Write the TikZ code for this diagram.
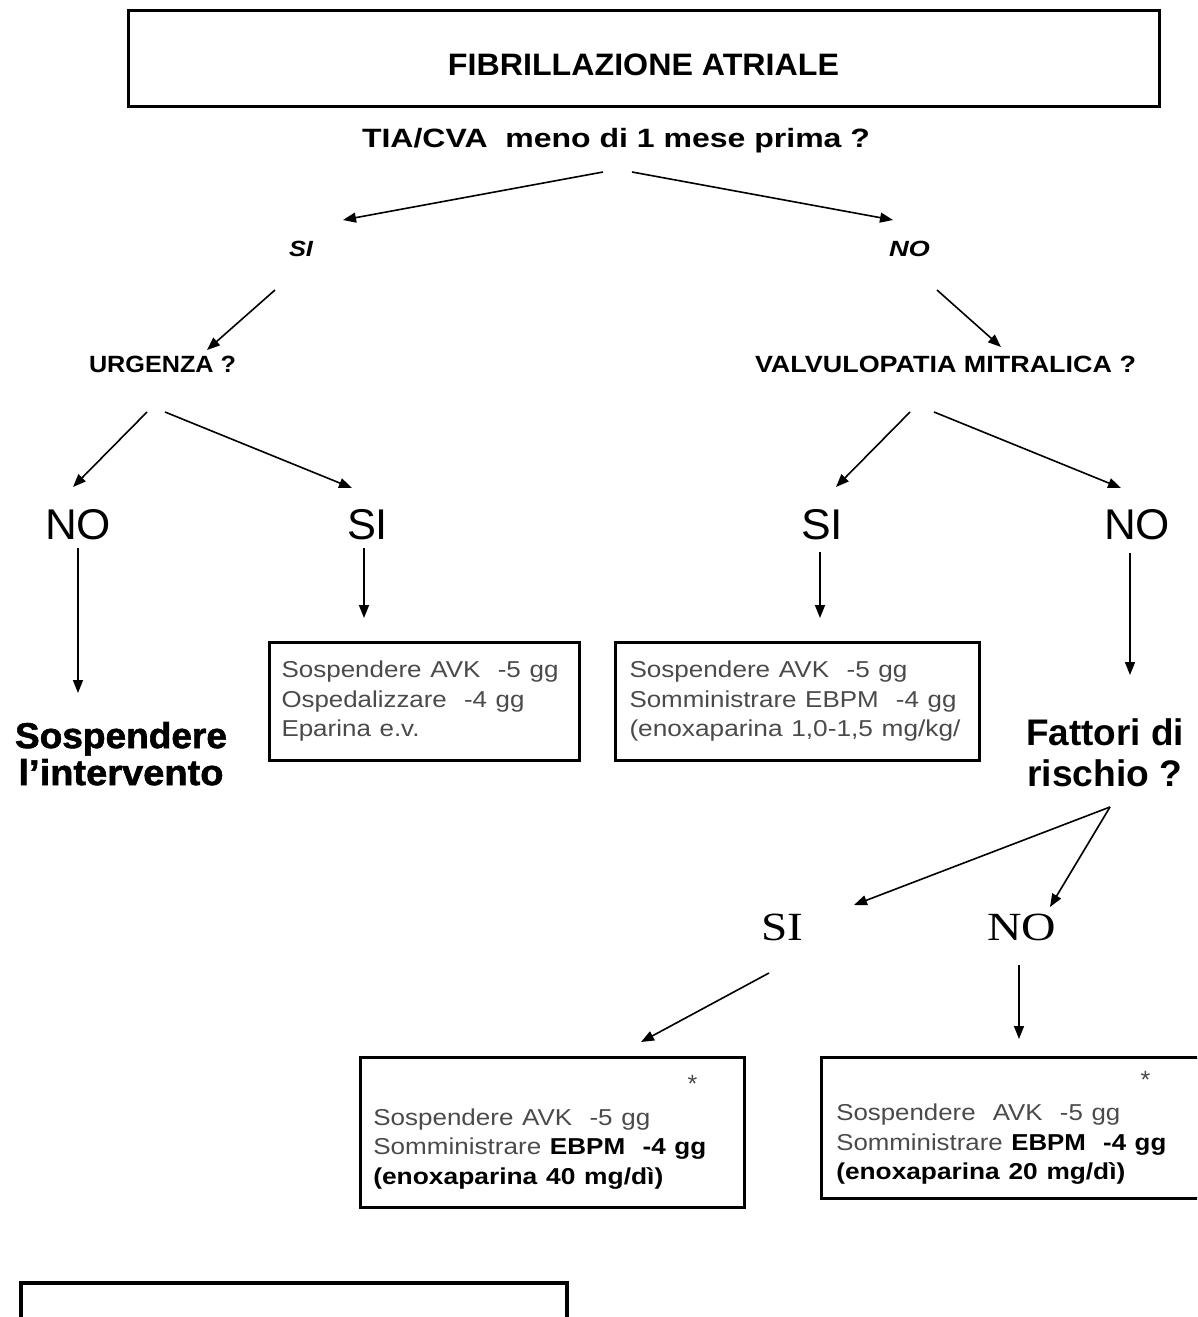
\documentclass[tikz,border=0pt]{standalone}
\usepackage{graphicx}
\usepackage{fontspec}
\setmainfont{Liberation Sans}
\newfontfamily\seriffont{Liberation Serif}
\newfontfamily\heavy[FakeBold=1.5]{Liberation Sans Bold}
\usetikzlibrary{arrows.meta}
\newcommand{\fw}[2]{\resizebox{#1pt}{\height}{#2}}
\newcommand{\fsz}[2]{\fontsize{#1}{#2}\selectfont}
\newcommand{\starline}[1]{\makebox[\linewidth][r]{{\color{txtgray}\fsz{25}{25}*}\hspace{#1pt}}}
\definecolor{txtgray}{HTML}{4A4A4A}
\tikzset{
  txt/.style={inner sep=0pt, outer sep=0pt},
  arr/.style={line width=1.6pt, -{Triangle[length=13pt,width=10pt]}},
  tbox/.style={draw, line width=3pt, inner ysep=0pt, align=left, anchor=north west, font=\fsz{23}{29.5}},
}
\begin{document}
\begin{tikzpicture}[x=1pt,y=-1pt]
\useasboundingbox (0,0) rectangle (1197,1317);
\clip (0,0) rectangle (1197,1317);

% title
\node[draw, line width=3pt, minimum width=1031pt, minimum height=96pt, inner sep=0pt,
      text height=33pt, text depth=0pt] (title) at (643.5,58.5)
      {\fw{391}{\bfseries\fsz{31}{31}FIBRILLAZIONE ATRIALE}};

\node[txt, anchor=base west] (tia) at (362,147)
      {\fw{508}{\bfseries\fsz{26.5}{30}TIA/CVA\ \ meno di 1 mese prima ?}};

\node[txt, anchor=base west] (si1) at (289,256) {\fw{24}{\bfseries\itshape\fsz{22}{22}SI}};
\node[txt, anchor=base west] (no1) at (889,256) {\fw{41}{\bfseries\itshape\fsz{22}{22}NO}};

\node[txt, anchor=base west] (urg) at (89,372) {\fw{147}{\bfseries\fsz{23.5}{23.5}URGENZA ?}};
\node[txt, anchor=base west] (valv) at (755,372) {\fw{381}{\bfseries\fsz{23.5}{23.5}VALVULOPATIA MITRALICA ?}};

\node[txt, anchor=base west] (urgno) at (45,539) {\fw{66}{\fsz{43}{43}NO}};
\node[txt, anchor=base west] (urgsi) at (347,539) {\fw{41}{\fsz{43}{43}SI}};
\node[txt, anchor=base west] (valvsi) at (801,539) {\fw{42}{\fsz{43}{43}SI}};
\node[txt, anchor=base west] (valvno) at (1104,539) {\fw{66}{\fsz{43}{43}NO}};

\node[txt, anchor=north, align=center, font=\heavy\fsz{36}{37}] (stop) at (121,722)
      {\fw{212}{Sospendere}\\\fw{205}{l’intervento}};

\node[tbox, text width=286pt, inner xsep=12pt, minimum height=118pt] (box1) at (268,641)
      {\color{txtgray}\fw{277}{Sospendere AVK\ \ -5 gg}\\
       \color{txtgray}\fw{243}{Ospedalizzare\ \ -4 gg}\\
       \color{txtgray}\fw{138}{Eparina e.v.}};

\node[tbox, text width=336pt, inner xsep=14pt, minimum height=118pt] (box2) at (614,641)
      {\color{txtgray}\fw{278}{Sospendere AVK\ \ -5 gg}\\
       \color{txtgray}\fw{327}{Somministrare EBPM\ \ -4 gg}\\
       \color{txtgray}\fw{331}{(enoxaparina 1,0-1,5 mg/kg/}};

\node[txt, anchor=north, align=center, font=\bfseries\fsz{37}{41}] (risk) at (1105,719)
      {\fw{158}{Fattori di}\\\fw{155}{rischio ?}};

\node[txt, anchor=base west] (rsi) at (761,940) {\fw{42}{\seriffont\fsz{40}{40}SI}};
\node[txt, anchor=base west] (rno) at (987,940) {\fw{69}{\seriffont\fsz{40}{40}NO}};

\node[tbox, line width=2.6pt, text width=358pt, inner xsep=13pt, minimum height=150pt] (box3) at (359,1056)
      {\starline{34}\\[3pt]
       \fw{277}{\color{txtgray}Sospendere AVK\ \ -5 gg}\\
       \fw{333}{\color{txtgray}Somministrare \color{black}\bfseries EBPM\ \ -4 gg}\\
       \fw{290}{\bfseries (enoxaparina 40 mg/dì)}};

\node[tbox, line width=2.6pt, text width=390pt, inner xsep=15pt, minimum height=141pt] (box4) at (820,1056)
      {\starline{76}\\[3pt]
       \fw{284}{\color{txtgray}Sospendere\ \ AVK\ \ -5 gg}\\
       \fw{330}{\color{txtgray}Somministrare \color{black}\bfseries EBPM\ \ -4 gg}\\
       \fw{289}{\bfseries (enoxaparina 20 mg/dì)}};

\node[draw, line width=4pt, anchor=north west, minimum width=546pt, minimum height=100pt, inner sep=0pt] (bottom) at (19,1281) {};

% connector end points
\coordinate (a1s) at (603,172);  \coordinate (a1e) at (343,220);
\coordinate (a2s) at (632,172);  \coordinate (a2e) at (893,220);
\coordinate (a3s) at (275,290);  \coordinate (a3e) at (207,350);
\coordinate (a4s) at (937,290);  \coordinate (a4e) at (1001,347);
\coordinate (a5s) at (147,412);  \coordinate (a5e) at (73,487);
\coordinate (a6s) at (165,412);  \coordinate (a6e) at (352,488);
\coordinate (a7s) at (910,412);  \coordinate (a7e) at (836,487);
\coordinate (a8s) at (934,412);  \coordinate (a8e) at (1121,488);
\coordinate (a9s) at (78,548);   \coordinate (a9e) at (78,693);
\coordinate (a10s) at (364,548); \coordinate (a10e) at (364,618);
\coordinate (a11s) at (820,552); \coordinate (a11e) at (820,618);
\coordinate (a12s) at (1130,553);\coordinate (a12e) at (1130,675);
\coordinate (a13s) at (1110,807);\coordinate (a13e) at (854,905);
\coordinate (a14s) at (1110,807);\coordinate (a14e) at (1050,907);
\coordinate (a15s) at (769,973); \coordinate (a15e) at (641,1042);
\coordinate (a16s) at (1019,965);\coordinate (a16e) at (1019,1039);

\foreach \i in {1,...,16} \draw[arr] (a\i s) -- (a\i e);
\end{tikzpicture}
\end{document}
